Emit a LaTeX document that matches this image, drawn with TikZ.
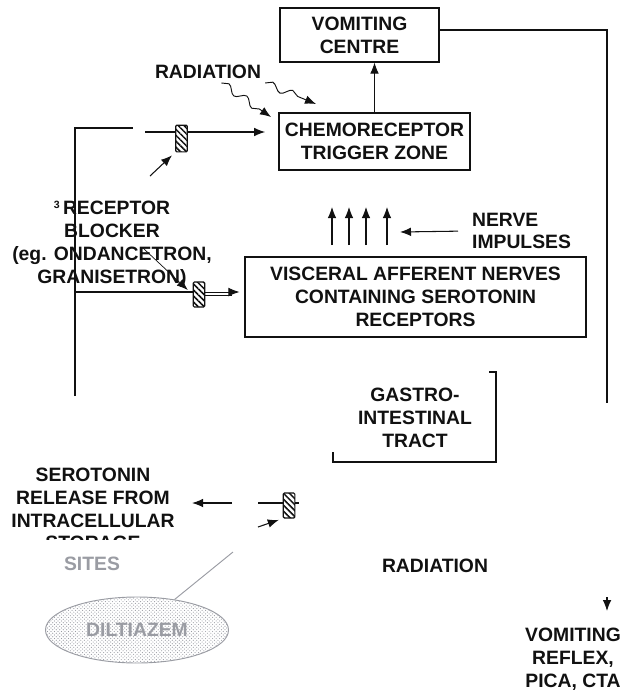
\documentclass[tikz,border=0pt]{standalone}
\usepackage{fontspec}
\setmainfont{Liberation Sans}
\usepackage{tikz}
\usetikzlibrary{arrows.meta,positioning,calc,patterns,patterns.meta,decorations.pathmorphing,shapes.geometric}
\definecolor{ink}{HTML}{111111}
\definecolor{fade}{HTML}{9A9CA3}
\definecolor{speck}{HTML}{E2E2E2}
\tikzset{
  >={Latex[length=3.3mm,width=2.6mm]},
  lbl/.style={align=center,font=\bfseries\fontsize{16.5}{19.5}\selectfont,text=ink},
  box/.style={draw=ink,line width=.9pt,inner sep=0pt},
  flow/.style={->,line width=.9pt,color=ink},
  wire/.style={line width=.9pt,color=ink},
  blockbar/.style={draw=ink,line width=1pt,fill=white,
    pattern={Lines[angle=-45,distance=3.6pt,line width=1.3pt]},pattern color=ink,
    rounded corners=1pt,minimum width=.35cm,minimum height=.8cm,inner sep=0pt},
  wave/.style={->,line width=.8pt,color=ink,decorate,
    decoration={snake,amplitude=1.1mm,segment length=6.5mm,post length=3mm}},
}

\begin{document}
\begin{tikzpicture}[x=.03cm,y=-.03cm]
  \useasboundingbox (0,0) rectangle (623,693);

  % boxes
  \node[box,lbl,minimum width=4.77cm,minimum height=1.62cm] (vc) at (359.5,35) {VOMITING\\CENTRE};
  \node[box,lbl,minimum width=5.73cm,minimum height=1.71cm] (ctz) at (374.5,141.5) {CHEMORECEPTOR\\TRIGGER ZONE};
  \node[box,lbl,minimum width=10.23cm,minimum height=2.4cm] (van) at (415.5,297)
    {VISCERAL AFFERENT NERVES\\CONTAINING SEROTONIN\\RECEPTORS};
  \node[lbl] (gi) at (415,418) {GASTRO-\\INTESTINAL\\TRACT};
  \draw[wire] (333,452) -- (333,462) -- (496,462) -- (496,372) -- (489,372);

  % labels
  \node[lbl] (rad1) at (208,72) {RADIATION};
  \node[lbl,align=left,anchor=west] (ni) at (468,231) {NERVE\\IMPULSES};
  \node[lbl] (rb) at (112,244)
    {\raisebox{.55ex}{\fontsize{9}{9}\selectfont 3}\,RECEPTOR\\BLOCKER\\(eg. ONDANCETRON,\\GRANISETRON)};
  \node[lbl] (sero) at (93,498) {SEROTONIN\\RELEASE FROM\\INTRACELLULAR};
  \begin{scope}
    \clip (0,530) rectangle (230,539.5);
    \node[lbl,anchor=base] (store) at (93,549) {STORAGE};
  \end{scope}
  \node[lbl,text=fade] (sites) at (92,563.5) {SITES};
  \node[lbl] (rad2) at (435,566) {RADIATION};
  \node[lbl] (reflex) at (573,659) {VOMITING\\REFLEX,\\PICA, CTA};
  \node[ellipse,draw=fade,line width=.8pt,fill=speck,pattern=crosshatch dots,pattern color=fade,
    minimum width=5.49cm,minimum height=1.98cm,inner sep=0pt,lbl,text=fade] (dil) at (137,630) {DILTIAZEM};

  % blockers
  \node[blockbar] (b1) at (181.5,138.5) {};
  \node[blockbar,minimum height=.75cm] (b2) at (199,294.5) {};
  \node[blockbar,minimum height=.75cm] (b3) at (289,505.5) {};

  \coordinate (ltop) at (75,128);
  \coordinate (lbot) at (75,396);
  \coordinate (lgap) at (133,128);
  \coordinate (c1) at (145,132);
  \coordinate (p1) at (150,176);
  \coordinate (c2) at (75,292);
  \coordinate (c2b) at (205,295);
  \coordinate (d2) at (143,248);
  \coordinate (rtop) at (607,30);
  \coordinate (rbot) at (607,403);
  \coordinate (rarr) at (607,597);
  \coordinate (rtip) at (607,611);
  \coordinate (w1) at (316,104);
  \coordinate (w2) at (271,117);
  \coordinate (niend) at (400,232);
  \coordinate (a3) at (232,503);
  \coordinate (c3) at (258,503);
  \coordinate (c3end) at (302,503);
  \coordinate (p3) at (258,527);
  \coordinate (g3) at (233,552);

  % connectors
  \draw[flow] (ctz.north) -- (ctz.north |- vc.south);
  \draw[wire] (vc.east |- rtop) -- (rtop) -- (rbot);
  \draw[flow] (rarr) -- (rtip);
  \draw[wave] (rad1.south east) -- (w1);
  \draw[wave] ([xshift=.4cm]rad1.south) -- (w2);
  \draw[wire] (lbot) -- (ltop) -- (lgap);
  \draw[wire] (c1) -- (c1 -| b1.west);
  \draw[flow,shorten >=.4cm] (c1 -| b1.east) -- (c1 -| ctz.west);
  \draw[flow,shorten >=.12cm] (p1) -- (b1.south west);
  \draw[flow,line width=.6pt,shorten >=.2cm] (d2) -- (b2.west);
  \draw[wire] (c2) -- (c2 -| b2.west);
  \draw[flow,line width=.7pt,shorten >=.15cm] (c2 -| b2.east) -- (c2 -| van.west);
  \draw[wire,line width=.6pt] (c2b) -- (c2b -| 232,0);
  \foreach \x in {332,349,366,387}
    \draw[flow] (\x,245) -- (\x,207);
  \draw[flow,shorten <=.3cm] (ni.west) -- (niend);
  \draw[flow,shorten >=.4cm] (a3) -- (a3 -| sero.east);
  \draw[wire] (c3) -- (c3 -| b3.west);
  \draw[wire,dashed] (c3 -| b3.east) -- (c3end);
  \draw[flow,shorten >=.12cm] (p3) -- (b3.south west);
  \draw[fade,line width=.8pt] (g3) -- (dil);
\end{tikzpicture}
\end{document}
